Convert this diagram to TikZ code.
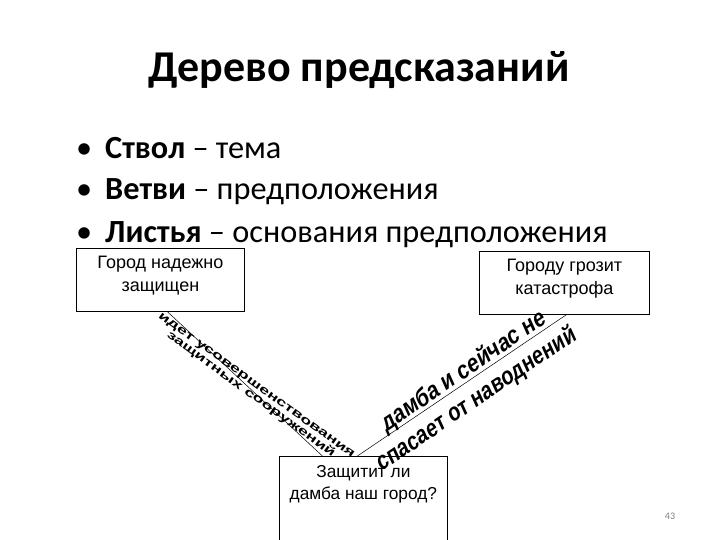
\documentclass[tikz,border=0pt]{standalone}
\usepackage{fontspec}
\setmainfont{Carlito}
\newfontfamily\boxfont{Liberation Sans}
\newfontfamily\slantfont[BoldFeatures={FakeSlant=0.2}]{Liberation Sans}

\tikzset{
  leafbox/.style={draw,thick,fill=white,anchor=north west,align=center,font=\boxfont\fontsize{18}{22.5}\selectfont,inner xsep=0pt,inner ysep=8pt},
  bullet/.style={anchor=base west,inner sep=0pt,font=\fontsize{32.3}{38}\selectfont},
  branch/.style={black,line width=0.5pt},
  thinword/.style={rotate=-36,xscale=1.25,yscale=0.8,inner sep=0pt,font=\boxfont\bfseries\fontsize{14.5}{14}\selectfont},
  fatword/.style={rotate=34.2,inner sep=0pt,font=\slantfont\bfseries\fontsize{24.5}{24.5}\selectfont},
}

\begin{document}
\begin{tikzpicture}[x=1pt,y=1pt]
\clip (0,0) rectangle (720,540);
\fill[white] (0,0) rectangle (720,540);
\node[anchor=base,inner sep=0pt,font=\bfseries\fontsize{44}{52}\selectfont] (title) at (359,458) {Дерево предсказаний};
\node[bullet] (dota) at (76,381) {•};
\node[bullet] (dotb) at (76,340) {•};
\node[bullet] (dotc) at (76,297) {•};
\node[bullet] (trunk) at (105,381) {\textbf{Ствол} – тема};
\node[bullet] (twigs) at (105,340) {\textbf{Ветви} – предположения};
\node[bullet] (leaves) at (105,297) {\textbf{Листья} – основания предположения};
\node[leafbox,minimum width=168pt,text depth=12pt] (safe) at (76,292) {Город надежно\\защищен};
\node[leafbox,minimum width=170pt,text depth=12pt] (doom) at (479,289) {Городу грозит\\катастрофа};
\node[leafbox,minimum width=168pt,text depth=80pt,inner ysep=9pt,font=\boxfont\fontsize{17.3}{22}\selectfont] (dam) at (279,84) {Защитит ли\\дамба наш город?};
\draw[branch] ([xshift=7pt]safe.south) -- ([xshift=-41pt]dam.north);
\draw[branch] ([xshift=2pt]doom.south) -- ([xshift=-6pt]dam.north);
% text on the branches
\node[thinword] (upa) at (256,154) {идет усовершенствования};
\node[thinword] (upb) at (251,145.5) {защитных сооружений};
\node[fatword,xscale=0.87] (downa) at (463,168) {дамба и сейчас не};
\node[fatword,xscale=0.84] (downb) at (476,140) {спасает от наводнений};
\node[inner sep=0pt,text=gray,font=\fontsize{10}{12}\selectfont] (page) at (670,24) {43};
\end{tikzpicture}
\end{document}
